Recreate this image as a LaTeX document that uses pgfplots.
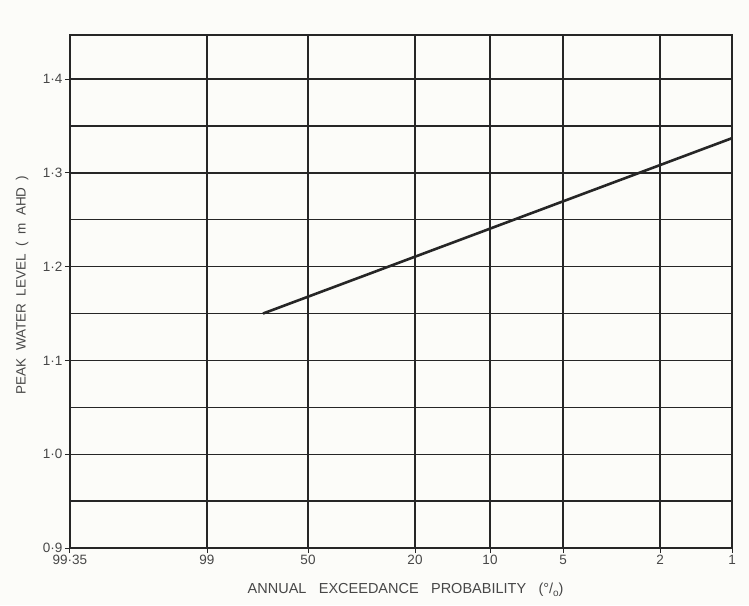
\documentclass[border=0pt]{standalone}
\usepackage{fontspec}
\setmainfont{Liberation Sans}
\usepackage{pgfplots}
\pgfplotsset{compat=1.18}
\definecolor{ink}{HTML}{262626}
\definecolor{paper}{HTML}{FCFCF9}
\newcommand{\gap}{\hspace{0.55em}}
\newcommand{\wgap}{\hspace{0.85em}}

\begin{document}
\begin{tikzpicture}[x=1pt,y=1pt]
\fill[paper] (-70,-57) rectangle (679,548);
\useasboundingbox (-70,-57) rectangle (679,548);
\begin{axis}[
  scale only axis, width=662pt, height=513pt,
  anchor=south west, at={(0,0)},
  xmin=70, xmax=732, ymin=0.9, ymax=1.447,
  xtick={70,207,308,415,490,563,660,732},
  xticklabels={99·35,99,50,20,10,5,2,1},
  ytick={0.9,1.0,1.1,1.2,1.3,1.4},
  yticklabels={0·9,1·0,1·1,1·2,1·3,1·4},
  minor ytick={0.95,1.05,1.15,1.25,1.35},
  grid=both,
  major grid style={ink, line width=1.3pt},
  minor grid style={ink, line width=1.3pt},
  axis line style={ink, line width=1.4pt},
  tick style={ink, line width=1pt},
  major tick length=5pt, minor tick length=0pt,
  tick align=outside, xtick pos=bottom, ytick pos=left,
  ticklabel style={font=\fontsize{13.5}{15}\selectfont, text=ink!85},
  xticklabel style={yshift=1pt},
  yticklabel style={xshift=1pt},
  xlabel={ANNUAL\wgap EXCEEDANCE\wgap PROBABILITY\wgap (°/\raisebox{-0.35ex}{\fontsize{10}{11}\selectfont o})},
  ylabel={PEAK\gap WATER\gap LEVEL\gap (\gap m\gap AHD\gap )},
  xlabel style={font=\fontsize{14.5}{16}\selectfont, text=ink!85,
    at={(axis description cs:0.507,-0.082)}, anchor=center},
  ylabel style={font=\fontsize{13.5}{15}\selectfont, text=ink!85,
    at={(axis description cs:-0.0725,0.513)}, anchor=center, rotate=0},
]
\addplot[ink, line width=2.6pt] coordinates {(263,1.15) (732,1.337)};
\end{axis}
\end{tikzpicture}
\end{document}
